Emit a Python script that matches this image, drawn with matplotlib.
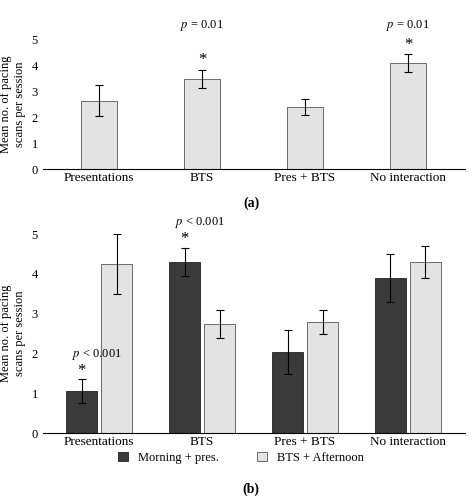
import matplotlib
matplotlib.use("Agg")
import matplotlib.pyplot as plt
import numpy as np

plt.rcParams['font.family'] = ['Liberation Serif', 'DejaVu Serif']
plt.rcParams['mathtext.fontset'] = 'stix'

categories = ['Presentations', 'BTS', 'Pres + BTS', 'No interaction']
# panel (a)
a_mean = [2.65, 3.5, 2.4, 4.1]
a_err = [0.6, 0.35, 0.3, 0.35]
# panel (b)
morning_mean = [1.05, 4.3, 2.05, 3.9]
morning_err = [0.3, 0.35, 0.55, 0.6]
afternoon_mean = [4.25, 2.75, 2.8, 4.3]
afternoon_err = [0.75, 0.35, 0.3, 0.4]

fig = plt.figure(figsize=(4.74, 4.98), dpi=100)
ax1 = fig.add_axes([0.09, 0.66, 0.89, 0.26])
ax2 = fig.add_axes([0.09, 0.13, 0.89, 0.40])

light = '#e3e3e3'
dark = '#3a3a3a'
x = np.arange(len(categories))

def style(ax):
    for s in ['top', 'right', 'left']:
        ax.spines[s].set_visible(False)
    ax.tick_params(axis='y', length=0, labelsize=9)
    ax.tick_params(axis='x', length=0, labelsize=9.5, pad=2)
    ax.set_ylim(0, 5)
    ax.set_yticks(range(6))
    ax.set_xticks(x)
    ax.set_xticklabels(categories)
    ax.set_xlim(-0.55, 3.55)
    ax.set_ylabel('Mean no. of pacing\nscans per session', fontsize=9)

ax1.bar(x, a_mean, width=0.35, color=light, edgecolor='#555555', linewidth=0.6,
        yerr=a_err, capsize=3, error_kw=dict(elinewidth=0.8, capthick=0.8))
style(ax1)
for i in [1, 3]:
    ax1.text(i, a_mean[i] + a_err[i] + 0.05, '*', ha='center', va='bottom', fontsize=12)
    ax1.text(i, 5.25, '$p$ = 0.01', ha='center', va='bottom', fontsize=9)
fig.text(0.53, 0.585, '(a)', ha='center', fontsize=10, fontweight='bold')

w = 0.3
ax2.bar(x - w / 2 - 0.02, morning_mean, width=w, color=dark, edgecolor='#222222', linewidth=0.6,
        yerr=morning_err, capsize=3, error_kw=dict(elinewidth=0.8, capthick=0.8),
        label='Morning + pres.')
ax2.bar(x + w / 2 + 0.02, afternoon_mean, width=w, color=light, edgecolor='#555555', linewidth=0.6,
        yerr=afternoon_err, capsize=3, error_kw=dict(elinewidth=0.8, capthick=0.8),
        label='BTS + Afternoon')
style(ax2)
for i in [0, 1]:
    xi = i - w / 2 - 0.02
    top = morning_mean[i] + morning_err[i]
    ax2.text(xi, top + 0.02, '*', ha='center', va='bottom', fontsize=12)
    ax2.text(xi + 0.15, top + 0.45, '$p$ < 0.001', ha='center', va='bottom', fontsize=9)
ax2.legend(loc='upper center', bbox_to_anchor=(0.47, -0.07), ncol=2, frameon=False,
           fontsize=9, handlelength=0.8, columnspacing=3, borderaxespad=0)
fig.text(0.53, 0.01, '(b)', ha='center', fontsize=10, fontweight='bold')

fig.savefig('out.png', dpi=100)
